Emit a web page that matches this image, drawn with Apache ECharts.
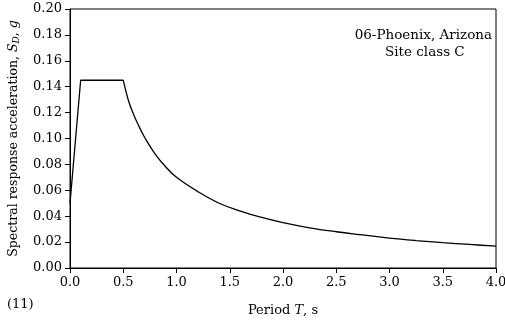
<!DOCTYPE html>
<html><head><meta charset="utf-8">
<script src="https://cdn.jsdelivr.net/npm/echarts@6/dist/echarts.min.js"></script>
<style>html,body{margin:0;padding:0;background:#fff}#c{width:505px;height:322px}</style>
</head><body><div id="c"></div>
<script>
// Period T (s) and spectral response acceleration S_D (g)
const rampPeriods = [0, 0.1, 0.5];
const rampValues  = [0.050, 0.145, 0.145];
const decayPeriods = [0.5, 0.55, 0.6, 0.65, 0.7, 0.8, 0.9, 1.0, 1.2, 1.4, 1.6, 1.8, 2.0, 2.25, 2.5, 2.75, 3.0, 3.25, 3.5, 3.75, 4.0];
const decayValues  = [0.145, 0.129, 0.118, 0.109, 0.101, 0.088, 0.078, 0.070, 0.059, 0.050, 0.044, 0.039, 0.035, 0.031, 0.028, 0.0255, 0.0231, 0.0212, 0.0196, 0.0182, 0.0169];
const xTicks = [0, 0.5, 1, 1.5, 2, 2.5, 3, 3.5, 4];
const yTicks = [0, 0.02, 0.04, 0.06, 0.08, 0.10, 0.12, 0.14, 0.16, 0.18, 0.20];
const noteLines = ['06-Phoenix, Arizona', 'Site class C'];
const panelLabel = '(11)';

const FONT = 'DejaVu Serif';
const FS = 13;
const chart = echarts.init(document.getElementById('c'), null, {renderer: 'canvas'});
const zip = (a, b) => a.map((v, i) => [v, b[i]]);
chart.setOption({
  animation: false,
  backgroundColor: '#fff',
  grid: {left: 70, right: 9, top: 9, bottom: 54, containLabel: false, outerBoundsMode: 'none',
         show: true, borderColor: '#000', borderWidth: 1, backgroundColor: 'transparent'},
  xAxis: {
    type: 'value', min: xTicks[0], max: xTicks[xTicks.length - 1], interval: 0.5,
    axisLine: {lineStyle: {color: '#000', width: 1}},
    axisTick: {show: true, length: 5, lineStyle: {color: '#000'}},
    splitLine: {show: false},
    axisLabel: {color: '#000', fontFamily: FONT, fontSize: FS, margin: 8, formatter: v => v.toFixed(1)},
    name: '{n|Period }{i|T}{n|, s}', nameLocation: 'middle', nameGap: 36,
    nameTextStyle: {rich: {
      n: {fontFamily: FONT, fontSize: FS, color: '#000'},
      i: {fontFamily: FONT, fontSize: FS, color: '#000', fontStyle: 'italic'}
    }}
  },
  yAxis: {
    type: 'value', min: yTicks[0], max: yTicks[yTicks.length - 1], interval: 0.02,
    axisLine: {show: true, lineStyle: {color: '#000', width: 1}},
    axisTick: {show: true, length: 5, lineStyle: {color: '#000'}},
    splitLine: {show: false},
    axisLabel: {color: '#000', fontFamily: FONT, fontSize: FS, margin: 8, formatter: v => v.toFixed(2)},
    name: '{n|Spectral response acceleration, }{i|S}{s|D}{n|, }{i|g}', nameLocation: 'middle', nameGap: 49,
    nameTextStyle: {rich: {
      n: {fontFamily: FONT, fontSize: 12.5, color: '#000'},
      i: {fontFamily: FONT, fontSize: 12.5, color: '#000', fontStyle: 'italic'},
      s: {fontFamily: FONT, fontSize: 9, color: '#000', fontStyle: 'italic', padding: [6, 0, 0, 0]}
    }}
  },
  series: [
    {type: 'line', data: zip(rampPeriods, rampValues), showSymbol: false, lineStyle: {color: '#000', width: 1.3}, z: 3},
    {type: 'line', data: zip(decayPeriods, decayValues), smooth: 0.4, showSymbol: false, lineStyle: {color: '#000', width: 1.3}, z: 3}
  ],
  graphic: [
    {type: 'text', right: 13, top: 28, style: {text: noteLines[0], font: '13.5px "' + FONT + '"', fill: '#000'}},
    {type: 'text', left: 385, top: 45, style: {text: noteLines[1], font: '13.5px "' + FONT + '"', fill: '#000'}},
    {type: 'text', left: 7, top: 298, style: {text: panelLabel, font: '13px "' + FONT + '"', fill: '#000'}}
  ]
});
</script></body></html>
